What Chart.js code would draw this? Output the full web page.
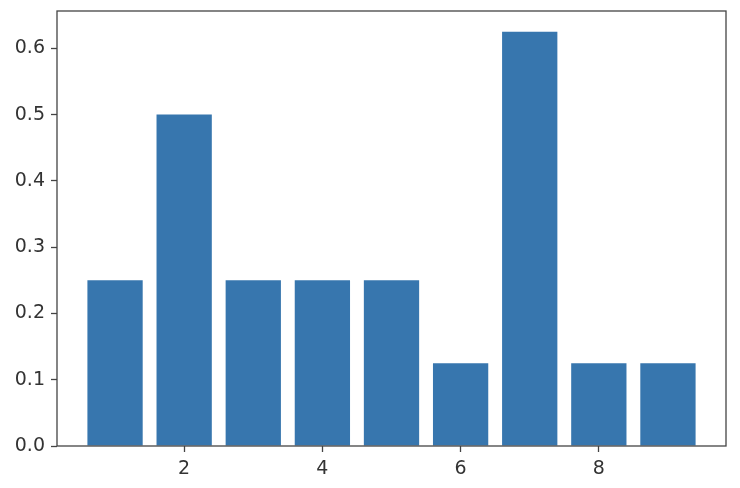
<!DOCTYPE html>
<html>
<head>
<meta charset="utf-8">
<script src="https://cdn.jsdelivr.net/npm/chart.js@4"></script>
<style>
  html, body { margin: 0; padding: 0; background: #fff; }
  #wrap { width: 740px; height: 488px; }
</style>
</head>
<body>
<div id="wrap"><canvas id="barChart"></canvas></div>
<script>
const positions = [1, 2, 3, 4, 5, 6, 7, 8, 9];
const heights = [0.25, 0.5, 0.25, 0.25, 0.25, 0.125, 0.625, 0.125, 0.125];
const xTicks = [2, 4, 6, 8];
const yTicks = [0, 0.1, 0.2, 0.3, 0.4, 0.5, 0.6];

// draws the matplotlib-style box round the plot area
const frame = {
    id: 'frame',
    afterDraw(chart) {
        const { ctx, chartArea } = chart;
        ctx.save();
        ctx.strokeStyle = '#444';
        ctx.lineWidth = 1.3;
        ctx.strokeRect(chartArea.left, chartArea.top, chartArea.right - chartArea.left, chartArea.bottom - chartArea.top);
        ctx.restore();
    }
};

function createGraph() {
    var ctx = document.getElementById('barChart').getContext('2d');
    var myChart = new Chart(ctx, {
        type: 'bar',
        data: {
            datasets: [{
                data: positions.map((x, i) => ({ x: x, y: heights[i] })),
                backgroundColor: '#3776ae',
                borderWidth: 0,
                barPercentage: 0.8,
                categoryPercentage: 1
            }]
        },
        options: {
            responsive: true,
            maintainAspectRatio: false,
            animation: false,
            layout: { padding: { left: 0, top: 11, right: 14, bottom: 0 } },
            scales: {
                x: {
                    type: 'linear',
                    min: 0.16,
                    max: 9.84,
                    offset: false,
                    afterBuildTicks: axis => { axis.ticks = xTicks.map(v => ({ value: v })); },
                    afterFit: axis => {
                        axis.height = 42;
                        axis.paddingLeft = 0;
                        axis.paddingRight = 0;
                    },
                    grid: { offset: false, drawOnChartArea: false, tickLength: 6, color: '#444', tickWidth: 1.3 },
                    border: { display: false },
                    ticks: { color: '#333', padding: 6, font: { family: 'DejaVu Sans', size: 19 } }
                },
                y: {
                    min: 0,
                    max: 0.65625,
                    afterBuildTicks: axis => { axis.ticks = yTicks.map(v => ({ value: v })); },
                    afterFit: axis => {
                        axis.width = 57;
                        axis.paddingTop = 0;
                        axis.paddingBottom = 0;
                    },
                    grid: { drawOnChartArea: false, tickLength: 6, color: '#444', tickWidth: 1.3 },
                    border: { display: false },
                    ticks: {
                        color: '#333',
                        padding: 6,
                        font: { family: 'DejaVu Sans', size: 19 },
                        callback: v => v.toFixed(1)
                    }
                }
            },
            plugins: {
                legend: { display: false },
                tooltip: { enabled: false }
            }
        },
        plugins: [frame]
    });
}

window.onload = function() {
    createGraph();
};
</script>
</body>
</html>
